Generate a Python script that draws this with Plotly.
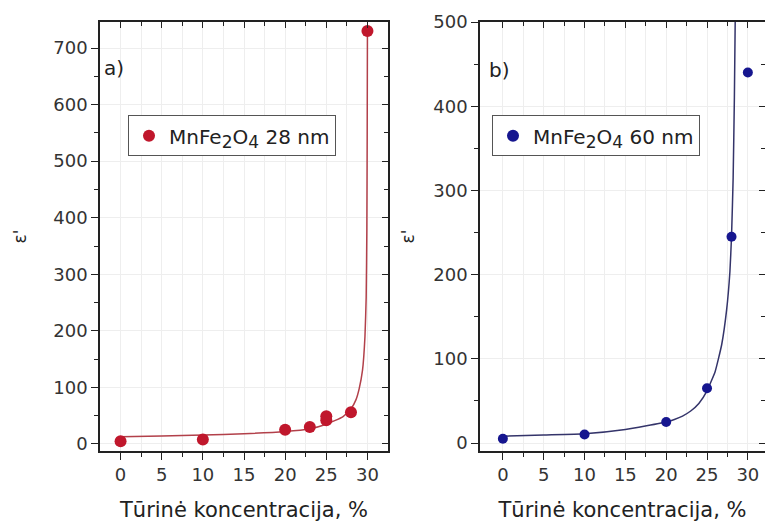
import plotly.graph_objects as go

# Measured data: MnFe2O4 28 nm
conc_a = [0, 10, 20, 23, 25, 25, 28, 30]
eps_a = [5, 8, 25, 30, 42, 49, 56, 730]
# Fitted curve for 28 nm
fit_xa = [0, 5, 10, 15, 20, 23, 25, 27, 28, 28.6, 29.0, 29.4, 29.7, 29.85, 29.93, 29.97, 30.0]
fit_ya = [13, 14, 16, 18, 22, 27, 35, 48, 62, 78, 98, 130, 190, 260, 380, 540, 730]

# Measured data: MnFe2O4 60 nm
conc_b = [0, 10, 20, 25, 28, 30]
eps_b = [5, 10, 25, 65, 245, 440]
# Fitted curve for 60 nm
fit_xb = [0, 5, 10, 15, 20, 21, 22, 23, 24, 25, 26, 26.8, 27.4, 27.8, 28.0, 28.2, 28.35, 28.45]
fit_yb = [8, 9.5, 11, 16, 25, 28, 32, 38, 47, 62, 85, 117, 158, 203, 245, 315, 410, 500]

red_pt = "#c0172c"
red_ln = "#b2404a"
blue_pt = "#16168f"
blue_ln = "#34346a"

FONT = "DejaVu Sans, Verdana, sans-serif"
INK = "#222"


def chem(n):
    sub = "<sub><span style='font-size:17px'>{}</span></sub>"
    return "MnFe" + sub.format(2) + "O" + sub.format(4) + " {} nm".format(n)


fig = go.Figure()

fig.add_trace(go.Scatter(x=fit_xa, y=fit_ya, mode="lines",
                         line=dict(color=red_ln, width=1.5, shape="spline", smoothing=0.4),
                         showlegend=False, xaxis="x", yaxis="y", hoverinfo="skip"))
fig.add_trace(go.Scatter(x=conc_a, y=eps_a, mode="markers", marker=dict(color=red_pt, size=12),
                         name=chem(28), legend="legend", xaxis="x", yaxis="y"))

fig.add_trace(go.Scatter(x=fit_xb, y=fit_yb, mode="lines",
                         line=dict(color=blue_ln, width=1.5, shape="spline", smoothing=0.4),
                         showlegend=False, xaxis="x2", yaxis="y2", hoverinfo="skip"))
fig.add_trace(go.Scatter(x=conc_b, y=eps_b, mode="markers", marker=dict(color=blue_pt, size=10),
                         name=chem(60), legend="legend2", xaxis="x2", yaxis="y2"))

W, H = 765, 524
dom_a = [100 / W, 388 / W]
dom_b = [480 / W, 1.0]
dom_y = [0.0, 1.0]

rng_xa = [-2.5, 32.5]
rng_xb = [-2.8, 32.1]
rng_ya = [-12.4, 746]
rng_yb = [-9.5, 500]

xticks = [0, 5, 10, 15, 20, 25, 30]
xminor = [2.5, 7.5, 12.5, 17.5, 22.5, 27.5]
grid = "#eeeeee"


def xaxis(dom, rng, anchor):
    return dict(domain=dom, range=rng, anchor=anchor, tickmode="array", tickvals=xticks,
                ticks="outside", ticklen=7, tickwidth=1.3, tickcolor=INK,
                minor=dict(tickvals=xminor, ticks="outside", ticklen=4, tickcolor=INK,
                           showgrid=True, gridcolor=grid),
                showline=True, linecolor=INK, linewidth=1.5, showgrid=True, gridcolor=grid,
                zeroline=False, tickfont=dict(family=FONT, size=18, color="#333"),
                title=dict(text="Tūrinė koncentracija, %", font=dict(family=FONT, size=21, color=INK),
                           standoff=18))


def yaxis(dom, rng, anchor, standoff):
    return dict(domain=dom, range=rng, anchor=anchor, dtick=100, tick0=0,
                ticks="outside", ticklen=7, tickwidth=1.3, tickcolor=INK,
                minor=dict(dtick=50, tick0=0, ticks="outside", ticklen=4, tickcolor=INK, showgrid=False),
                showline=True, linecolor=INK, linewidth=1.5, showgrid=True, gridcolor=grid,
                zeroline=False, tickfont=dict(family=FONT, size=18, color="#333"),
                title=dict(text="ε'", font=dict(family=FONT, size=17, color=INK), standoff=standoff))


def mirror_x(dom, rng, over):
    return dict(domain=dom, range=rng, overlaying=over, side="top", tickmode="array",
                tickvals=xticks, ticks="inside", ticklen=6, tickcolor=INK,
                minor=dict(tickvals=xminor, ticks="inside", ticklen=4, tickcolor=INK),
                showticklabels=False, showline=True, linecolor=INK, linewidth=1.5,
                showgrid=False, zeroline=False)


def mirror_y(dom, rng, over, anchor):
    return dict(domain=dom, range=rng, overlaying=over, side="right", anchor=anchor, dtick=100, tick0=0,
                ticks="inside", ticklen=6, tickcolor=INK,
                minor=dict(dtick=50, tick0=0, ticks="inside", ticklen=4, tickcolor=INK),
                showticklabels=False, showline=True, linecolor=INK, linewidth=1.5,
                showgrid=False, zeroline=False)


legend_style = dict(bgcolor="white", bordercolor="#555", borderwidth=1,
                    font=dict(family=FONT, size=20, color=INK), xanchor="left", yanchor="top",
                    itemsizing="constant", tracegroupgap=0)

fig.update_layout(
    width=W, height=H,
    margin=dict(l=0, r=0, t=22, b=73),
    paper_bgcolor="white", plot_bgcolor="white",
    xaxis=xaxis(dom_a, rng_xa, "y"),
    yaxis=yaxis(dom_y, rng_ya, "x", 22),
    xaxis2=xaxis(dom_b, rng_xb, "y2"),
    yaxis2=yaxis(dom_y, rng_yb, "x2", 14),
    xaxis3=mirror_x(dom_a, rng_xa, "x"),
    yaxis3=mirror_y(dom_y, rng_ya, "y", "x3"),
    xaxis4=mirror_x(dom_b, rng_xb, "x2"),
    yaxis4=mirror_y(dom_y, rng_yb, "y2", "x4"),
    legend=dict(x=128 / W, y=1 - 114 / H, **legend_style),
    legend2=dict(x=492 / W, y=1 - 114 / H, **legend_style),
    annotations=[
        dict(text="a)", xref="paper", yref="paper", x=102 / W, y=1 - 39 / H, xanchor="left", yanchor="top",
             showarrow=False, font=dict(family=FONT, size=20, color=INK)),
        dict(text="b)", xref="paper", yref="paper", x=487 / W, y=1 - 41 / H, xanchor="left", yanchor="top",
             showarrow=False, font=dict(family=FONT, size=20, color=INK)),
    ],
)

# placeholder traces bound to the mirror axes so they are drawn
fig.add_trace(go.Scatter(x=[None], y=[None], xaxis="x3", yaxis="y3", showlegend=False, hoverinfo="skip"))
fig.add_trace(go.Scatter(x=[None], y=[None], xaxis="x4", yaxis="y4", showlegend=False, hoverinfo="skip"))

fig.write_html("out.html")
